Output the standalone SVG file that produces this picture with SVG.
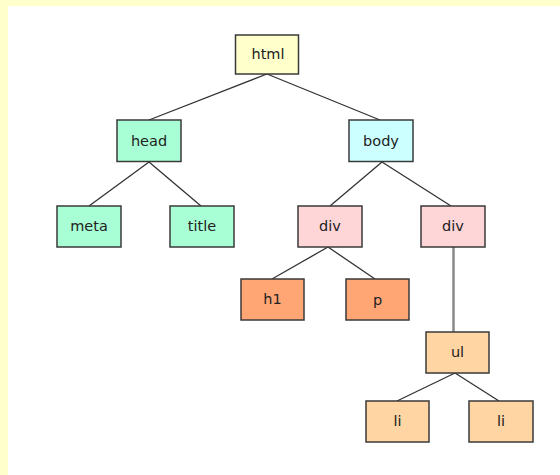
<svg xmlns="http://www.w3.org/2000/svg" width="560" height="475" viewBox="0 0 560 475">
<style>
.n rect{stroke:#3a3a3a;stroke-width:1.5}
.n text{font-family:"DejaVu Sans",sans-serif;font-size:14.5px;fill:#222;text-anchor:middle;dominant-baseline:central}
.e line{stroke:#333;stroke-width:1.3}
</style>
<rect x="0" y="0" width="560" height="475" fill="#FFFFCC"/>
<rect x="8" y="6" width="552" height="469" fill="#FFFFFF"/>
<g class="e" id="connectors">
<line x1="267" y1="74" x2="149" y2="120"/>
<line x1="267" y1="74" x2="380" y2="120"/>
<line x1="149" y1="162" x2="89" y2="206"/>
<line x1="149" y1="162" x2="201" y2="206"/>
<line x1="382" y1="162" x2="330" y2="206"/>
<line x1="382" y1="162" x2="451" y2="206"/>
<line x1="328" y1="247" x2="272" y2="279"/>
<line x1="328" y1="247" x2="375" y2="279"/>
<line x1="453.5" y1="247" x2="453.5" y2="332" style="stroke:#8a8a8a;stroke-width:2.5"/>
<line x1="455" y1="373" x2="397" y2="401"/>
<line x1="455" y1="373" x2="499" y2="401"/>
</g>
<g class="n" id="html"><rect x="235.5" y="35" width="63" height="39" fill="#FFFFCC"/><text x="268" y="54">html</text></g>
<g class="n" id="head"><rect x="117" y="120" width="64" height="41.5" fill="#A9FFD5"/><text x="149" y="140.5">head</text></g>
<g class="n" id="meta"><rect x="57" y="206" width="64" height="41" fill="#A9FFD5"/><text x="89" y="226">meta</text></g>
<g class="n" id="title"><rect x="170" y="206" width="64" height="41" fill="#A9FFD5"/><text x="202" y="226">title</text></g>
<g class="n" id="body"><rect x="349" y="120" width="64" height="41.5" fill="#CCFFFF"/><text x="381" y="140.5">body</text></g>
<g class="n" id="div1"><rect x="298" y="206" width="64" height="41" fill="#FFD6D8"/><text x="330" y="226">div</text></g>
<g class="n" id="div2"><rect x="421" y="206" width="64" height="41" fill="#FFD6D8"/><text x="453" y="226">div</text></g>
<g class="n" id="h1"><rect x="241" y="279" width="63" height="41" fill="#FFA674"/><text x="272.5" y="299">h1</text></g>
<g class="n" id="p"><rect x="346" y="279" width="63" height="41" fill="#FFA674"/><text x="377.5" y="300">p</text></g>
<g class="n" id="ul"><rect x="426" y="332" width="63" height="41" fill="#FFD5A4"/><text x="457.5" y="352">ul</text></g>
<g class="n" id="li1"><rect x="366" y="401" width="63" height="41" fill="#FFD5A4"/><text x="397.5" y="421">li</text></g>
<g class="n" id="li2"><rect x="469" y="401" width="64" height="41" fill="#FFD5A4"/><text x="501" y="421">li</text></g>
</svg>
